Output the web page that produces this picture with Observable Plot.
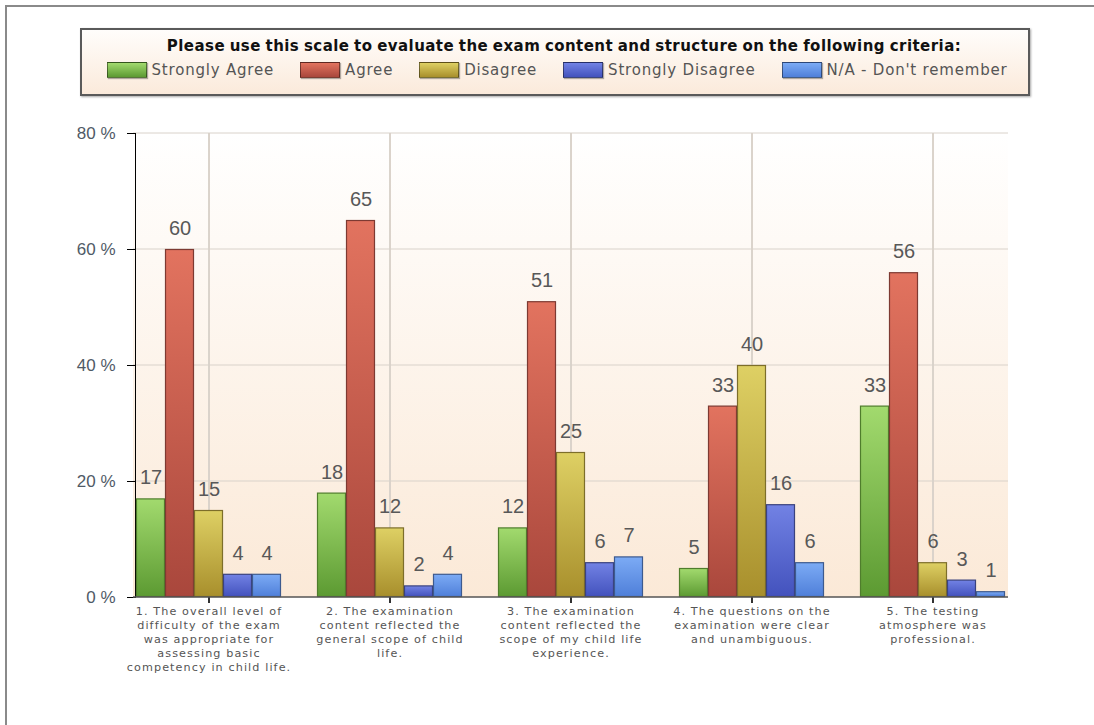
<!DOCTYPE html>
<html>
<head>
<meta charset="utf-8">
<script src="https://cdn.jsdelivr.net/npm/d3@7"></script>
<script src="https://cdn.jsdelivr.net/npm/@observablehq/plot@0.6"></script>
<style>
  html, body { margin: 0; padding: 0; background: #fff; }
  #page { position: relative; width: 1094px; height: 725px; overflow: hidden; font-family: "Liberation Sans", Arial, sans-serif; }
  #frame { position: absolute; left: 5px; top: 5px; width: 1200px; height: 800px; border-top: 2px solid #8a8a8a; border-left: 2px solid #8a8a8a; }
  #legend { position: absolute; left: 80px; top: 28px; width: 946px; height: 64px; border: 2px solid #5a5a5a;
            box-shadow: 1px 1px 2px rgba(0,0,0,0.35);
            background: linear-gradient(#fffdfb, #fbeadb); }
  #legend .title { text-align: center; font-weight: bold; font-size: 15px; color: #111; margin-top: 7px; padding-left: 18px;
                   font-family: "DejaVu Sans", sans-serif; letter-spacing: 0.45px; word-spacing: -1px; }
  #legend .items { display: flex; justify-content: center; margin-top: 6px; gap: 26px; padding-left: 4px; }
  #legend .item { display: flex; align-items: center; font-size: 15px; color: #555; font-family: "DejaVu Sans", sans-serif; letter-spacing: 0.8px; }
  #legend .sw { width: 38px; height: 14px; margin-right: 5px; border: 1px solid rgba(0,0,0,0.45); box-shadow: 1px 1px 1px rgba(0,0,0,0.3); }
  #chart { position: absolute; left: 0; top: 110px; }
</style>
</head>
<body>
<div id="page">
  <div id="frame"></div>
  <div id="legend">
    <div class="title" id="ltitle"></div>
    <div class="items" id="litems"></div>
  </div>
  <div id="chart"></div>
</div>
<script>
const legendTitle = "Please use this scale to evaluate the exam content and structure on the following criteria:";
const questions = ["Q1", "Q2", "Q3", "Q4", "Q5"];
const questionLabels = [
  "1. The overall level of\ndifficulty of the exam\nwas appropriate for\nassessing basic\ncompetency in child life.",
  "2. The examination\ncontent reflected the\ngeneral scope of child\nlife.",
  "3. The examination\ncontent reflected the\nscope of my child life\nexperience.",
  "4. The questions on the\nexamination were clear\nand unambiguous.",
  "5. The testing\natmosphere was\nprofessional."
];
const series = ["Strongly Agree", "Agree", "Disagree", "Strongly Disagree", "N/A - Don't remember"];
const stronglyAgree = [17, 18, 12, 5, 33];
const agree = [60, 65, 51, 33, 56];
const disagree = [15, 12, 25, 40, 6];
const stronglyDisagree = [4, 2, 6, 16, 3];
const notApplicable = [4, 4, 7, 6, 1];
const yTicks = [0, 20, 40, 60, 80];

// colours: [top, bottom, stroke]
const palette = [
  ["#a2da6e", "#5c9a32", "#4f7d2c"],
  ["#e2735f", "#a9473c", "#7d3a32"],
  ["#ded064", "#a88f2c", "#7d6e2a"],
  ["#7282e4", "#4352bd", "#3a427e"],
  ["#7cabf5", "#4f7fd9", "#3d5a8e"]
];
const gradIds = series.map((s, i) => "grad" + i);

const seriesValues = [stronglyAgree, agree, disagree, stronglyDisagree, notApplicable];
const rows = [];
questions.forEach((q, qi) => {
  series.forEach((s, si) => rows.push({q, s, v: seriesValues[si][qi]}));
});

// legend
document.getElementById("ltitle").textContent = legendTitle;
const litems = document.getElementById("litems");
series.forEach((s, i) => {
  const it = document.createElement("div");
  it.className = "item";
  const sw = document.createElement("span");
  sw.className = "sw";
  sw.style.background = `linear-gradient(${palette[i][0]}, ${palette[i][1]})`;
  it.appendChild(sw);
  const t = document.createElement("span");
  t.textContent = s;
  it.appendChild(t);
  litems.appendChild(it);
});

const labelOf = new Map(questions.map((q, i) => [q, questionLabels[i]]));
const centerRows = rows.filter(r => r.s === "Disagree");

const chart = Plot.plot({
  width: 1094,
  height: 600,
  marginLeft: 133,
  marginRight: 86,
  marginTop: 23,
  marginBottom: 113,
  style: {background: "transparent", fontFamily: "Liberation Sans, Arial, sans-serif"},
  fx: {domain: questions, paddingInner: 0.19, paddingOuter: 0, label: null, axis: "bottom",
       tickFormat: q => labelOf.get(q), tickSize: 0, tickPadding: 10},
  x: {domain: series, axis: null, padding: 0},
  y: {domain: [0, 80], ticks: yTicks, tickFormat: d => d + " %", label: null, tickSize: 8, tickPadding: 12, line: true},
  color: {domain: series, range: gradIds.map(id => `url(#${id})`)},
  facet: {data: rows, x: "q"},
  marks: [
    Plot.ruleX(centerRows, {x: "s", stroke: "#d9d2ca", strokeWidth: 1}),
    Plot.barY(rows, {x: "s", y: "v", fill: "s", stroke: d => palette[series.indexOf(d.s)][2], strokeWidth: 1.2, inset: 0.5}),
    Plot.ruleX(centerRows, {x: "s", y1: 0, y2: 0, insetBottom: -6, stroke: "#333", strokeWidth: 1.5}),
    Plot.text(rows, {x: "s", y: "v", text: d => String(d.v), dy: -21, fontSize: 20, fill: "#585858"})
  ]
});

document.getElementById("chart").appendChild(chart);

// post-process: gradients, background, gridlines, baseline
const svg = d3.select(chart);
const ys = chart.scale("y");
const x0 = 133, x1 = 1094 - 86;
const yTop = ys.apply(80), yBot = ys.apply(0);
const defs = svg.insert("defs", ":first-child");
const bg = defs.append("linearGradient").attr("id", "bggrad").attr("x1", 0).attr("y1", 0).attr("x2", 0).attr("y2", 1);
bg.append("stop").attr("offset", "0%").attr("stop-color", "#ffffff");
bg.append("stop").attr("offset", "100%").attr("stop-color", "#fbe9d7");
palette.forEach((p, i) => {
  const g = defs.append("linearGradient").attr("id", gradIds[i]).attr("x1", 0).attr("y1", 0).attr("x2", 0).attr("y2", 1);
  g.append("stop").attr("offset", "0%").attr("stop-color", p[0]);
  g.append("stop").attr("offset", "100%").attr("stop-color", p[1]);
});
const under = svg.insert("g", "defs + *");
under.append("rect").attr("x", x0).attr("y", yTop).attr("width", x1 - x0).attr("height", yBot - yTop).attr("fill", "url(#bggrad)");
yTicks.filter(t => t > 0).forEach(t => {
  under.append("line").attr("x1", x0).attr("x2", x1).attr("y1", ys.apply(t)).attr("y2", ys.apply(t))
    .attr("stroke", "#d9d2ca").attr("stroke-width", 1);
});
svg.append("line").attr("x1", x0).attr("x2", x1).attr("y1", yBot).attr("y2", yBot)
  .attr("stroke", "#555").attr("stroke-width", 1.5);

// tick label styling
svg.selectAll("[aria-label^='y-axis'] text")
  .attr("fill", "#4f5a66").style("font-size", "17px");
const lineScale = 1.25;
svg.selectAll("[aria-label^='fx-axis'] text")
  .attr("fill", "#555").style("font-size", "11.2px").style("font-family", "DejaVu Sans, sans-serif").style("letter-spacing", "1.1px")
  .each(function() {
    const tspans = d3.select(this).selectAll("tspan").nodes();
    if (tspans.length < 2) return;
    const hasY = tspans[1].hasAttribute("y");
    if (hasY) {
      const y0 = parseFloat(tspans[0].getAttribute("y")) || 0;
      tspans.forEach((t, i) => {
        if (i === 0) return;
        const yi = parseFloat(t.getAttribute("y"));
        t.setAttribute("y", `${y0 + (yi - y0) * lineScale}em`);
      });
    } else {
      tspans.forEach((t, i) => {
        if (i === 0) return;
        const dy = parseFloat(t.getAttribute("dy")) || 1;
        t.setAttribute("dy", `${dy * lineScale}em`);
      });
    }
  });
</script>
</body>
</html>
